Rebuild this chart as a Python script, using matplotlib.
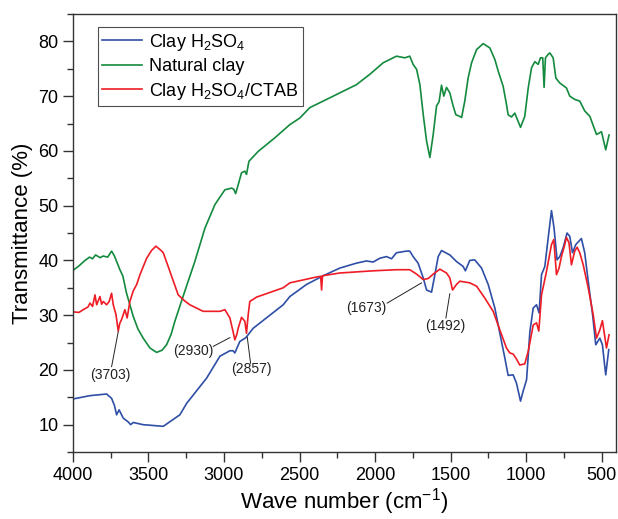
import numpy as np
import matplotlib.pyplot as plt

plt.rcParams['font.family'] = ['Liberation Sans', 'DejaVu Sans']
plt.rcParams['mathtext.fontset'] = 'custom'
plt.rcParams['mathtext.rm'] = 'Liberation Sans'
plt.rcParams['mathtext.it'] = 'Liberation Sans'

wn_natural = [3998, 3960, 3920, 3890, 3870, 3850, 3820, 3800, 3770, 3744, 3725, 3689, 3670,
              3645, 3601, 3570, 3535, 3490, 3446, 3410, 3380, 3350, 3325, 3259, 3193, 3126,
              3060, 2994, 2950, 2935, 2923, 2906, 2884, 2862, 2851, 2835, 2774, 2663, 2564,
              2498, 2432, 2299, 2123, 2034, 1946, 1858, 1803, 1770, 1748, 1725, 1703, 1681,
              1659, 1637, 1615, 1593, 1576, 1560, 1545, 1527, 1505, 1483, 1465, 1439, 1427,
              1406, 1384, 1361, 1328, 1284, 1240, 1207, 1185, 1152, 1130, 1119, 1097, 1075,
              1053, 1037, 1009, 986, 964, 942, 920, 905, 890, 881, 872, 855, 843, 821, 803,
              777, 733, 711, 678, 645, 612, 578, 534, 501, 473, 451]
t_natural = [38.2, 39.0, 40.0, 40.6, 40.3, 41.0, 40.5, 40.8, 40.6, 41.7, 40.8, 38.3, 37.2,
             34.0, 29.8, 27.5, 25.8, 24.0, 23.2, 23.6, 24.6, 26.5, 28.9, 34.4, 39.8, 45.9,
             50.2, 52.9, 53.2, 53.0, 52.2, 53.8, 56.0, 56.3, 55.7, 58.1, 59.9, 62.4, 64.8,
             66.0, 67.9, 69.7, 72.1, 74.0, 76.1, 77.3, 77.0, 77.3, 75.8, 74.9, 72.1, 66.6,
             61.8, 58.8, 63.0, 68.2, 69.0, 72.0, 70.0, 71.6, 70.6, 68.2, 66.6, 66.3, 66.1,
             69.1, 73.3, 76.1, 78.5, 79.6, 78.8, 76.7, 74.6, 71.8, 68.5, 66.6, 66.2, 66.9,
             65.4, 64.3, 66.3, 71.5, 75.2, 76.3, 75.8, 77.0, 77.0, 71.6, 77.0, 77.6, 77.9,
             77.0, 73.3, 72.4, 71.5, 70.0, 69.4, 69.1, 67.3, 66.3, 63.0, 63.5, 60.2, 62.9]

wn_h2so4 = [3998, 3887, 3777, 3744, 3725, 3711, 3694, 3667, 3634, 3618, 3601, 3535, 3402,
            3292, 3247, 3115, 3027, 2961, 2940, 2928, 2895, 2855, 2807, 2608, 2564, 2454,
            2343, 2233, 2123, 2057, 2013, 1968, 1924, 1891, 1858, 1792, 1770, 1748, 1715,
            1681, 1659, 1626, 1604, 1582, 1560, 1505, 1461, 1417, 1402, 1373, 1340, 1295,
            1251, 1207, 1174, 1141, 1119, 1086, 1064, 1037, 1020, 997, 975, 953, 931, 914,
            898, 876, 854, 832, 815, 795, 777, 755, 729, 711, 693, 671, 634, 612, 589, 560,
            539, 512, 495, 473, 453]
t_h2so4 = [14.7, 15.3, 15.6, 14.8, 13.5, 11.8, 12.7, 11.2, 10.5, 10.0, 10.4, 10.0, 9.7,
           11.8, 13.9, 18.5, 22.5, 23.5, 23.5, 23.1, 25.2, 25.9, 27.6, 31.9, 33.4, 35.6,
           37.2, 38.6, 39.5, 39.9, 39.7, 40.4, 40.7, 40.3, 41.4, 41.7, 41.7, 40.7, 39.5,
           36.8, 34.6, 34.2, 37.4, 40.7, 41.8, 41.0, 39.8, 38.9, 38.1, 40.0, 40.1, 38.6,
           35.6, 31.3, 26.7, 22.2, 19.0, 19.1, 17.6, 14.3, 16.1, 18.2, 27.0, 31.3, 31.9, 30.4,
           37.4, 38.9, 44.1, 49.1, 45.9, 40.1, 40.7, 42.3, 45.0, 44.4, 41.4, 42.9, 44.0, 41.4,
           36.2, 30.1, 24.6, 25.8, 24.6, 19.1, 23.7]

wn_ctab = [3998, 3960, 3932, 3900, 3887, 3870, 3854, 3843, 3830, 3821, 3810, 3799, 3777,
           3760, 3744, 3733, 3715, 3700, 3690, 3678, 3656, 3641, 3623, 3601, 3578, 3556,
           3512, 3480, 3451, 3420, 3402, 3358, 3303, 3260, 3226, 3138, 3027, 2994, 2961,
           2940, 2928, 2915, 2906, 2884, 2862, 2851, 2840, 2829, 2784, 2608, 2564, 2432,
           2400, 2360, 2354, 2348, 2233, 2013, 1858, 1770, 1725, 1681, 1648, 1615, 1571,
           1527, 1505, 1487, 1461, 1439, 1373, 1328, 1273, 1218, 1174, 1130, 1108, 1086,
           1064, 1042, 1009, 986, 953, 931, 916, 898, 865, 832, 817, 799, 782, 766, 744,
           733, 716, 700, 678, 662, 645, 622, 589, 556, 534, 512, 495, 468, 451]
t_ctab = [30.6, 30.5, 31.0, 31.5, 32.2, 31.6, 33.7, 31.9, 32.8, 33.4, 32.0, 32.5, 31.9,
          32.5, 34.0, 31.9, 30.1, 27.1, 28.5, 29.2, 31.0, 29.5, 32.5, 34.4, 35.6, 37.4,
          40.4, 41.8, 42.6, 41.9, 41.4, 38.0, 33.7, 32.6, 31.9, 30.7, 30.7, 31.0, 29.5,
          27.0, 25.5, 26.5, 27.6, 29.6, 28.9, 26.7, 30.0, 32.5, 33.3, 35.0, 35.9, 36.7,
          36.9, 37.1, 34.6, 37.2, 37.7, 38.1, 38.3, 38.3, 37.5, 36.5, 36.7, 37.5, 38.4,
          37.7, 36.8, 34.6, 35.6, 36.2, 35.9, 35.3, 33.1, 30.7, 27.3, 24.0, 23.1, 22.9,
          22.0, 20.9, 21.1, 23.4, 28.2, 28.6, 27.1, 33.7, 38.0, 42.9, 43.8, 37.4, 38.6, 40.7,
          42.9, 44.2, 43.2, 39.2, 41.7, 42.4, 41.4, 39.2, 35.0, 30.1, 25.8, 27.3, 29.0, 24.0,
          26.4]

# etiquetas de picos: texto, posicion del texto, inicio y fin de la linea
pk_labels = ['(3703)', '(2930)', '(2857)', '(1673)', '(1492)']
pk_text = [(3750, 19.1), (3204, 23.4), (2817, 20.2), (2057, 31.3), (1538, 28.1)]
pk_line = [((3744, 20.6), (3700, 27.0)), ((3071, 24.3), (2961, 25.9)),
           ((2824, 21.2), (2846, 26.0)), ((1920, 32.2), (1692, 35.9)),
           ((1531, 29.5), (1505, 33.9))]

fig = plt.figure(figsize=(6.18, 5.19), dpi=100)
ax = fig.add_axes([0.118, 0.129, 0.879, 0.844])

ax.plot(wn_h2so4, t_h2so4, color='#2f4fa6', lw=1.2, label='Clay H$_2$SO$_4$')
ax.plot(wn_natural, t_natural, color='#138a3e', lw=1.2, label='Natural clay')
ax.plot(wn_ctab, t_ctab, color='#ee1c25', lw=1.2, label='Clay H$_2$SO$_4$/CTAB')

for lab, (tx, ty), (p0, p1) in zip(pk_labels, pk_text, pk_line):
    ax.plot([p0[0], p1[0]], [p0[1], p1[1]], color='#222222', lw=0.7)
    ax.text(tx, ty, lab, fontsize=10, ha='center', va='center', color='#222222')

ax.set_xlim(4000, 404)
ax.set_ylim(5, 85)
ax.set_xticks([4000, 3500, 3000, 2500, 2000, 1500, 1000, 500])
ax.set_xticks(np.arange(3750, 400, -500), minor=True)
ax.set_yticks([10, 20, 30, 40, 50, 60, 70, 80])
ax.set_yticks(np.arange(5, 86, 10), minor=True)
ax.tick_params(which='major', direction='out', length=7, width=1, labelsize=13,
               top=False, right=False, color='#333333')
ax.tick_params(which='minor', direction='out', length=4.5, width=1,
               top=False, right=False, color='#333333')
for s in ax.spines.values():
    s.set_linewidth(1.0)
    s.set_color('#333333')

ax.set_xlabel('Wave number (cm$^{-1}$)', fontsize=16, labelpad=2)
ax.set_ylabel('Transmittance (%)', fontsize=16, labelpad=4)

leg = ax.legend(loc='upper left', bbox_to_anchor=(0.046, 0.97), borderaxespad=0,
                fontsize=13, frameon=True, fancybox=False, handlelength=2.2,
                labelspacing=0.3, borderpad=0.25, handletextpad=0.4)
leg.get_frame().set_edgecolor('#222222')
leg.get_frame().set_linewidth(0.8)

plt.savefig('out.png', dpi=100)
